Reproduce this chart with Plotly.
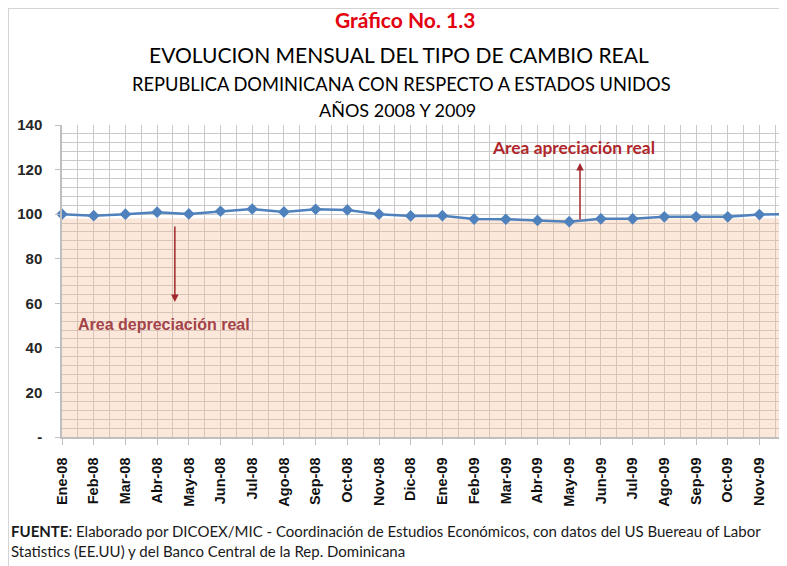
import plotly.graph_objects as go

# ---------------- data ----------------
months = ["Ene-08", "Feb-08", "Mar-08", "Abr-08", "May-08", "Jun-08", "Jul-08", "Ago-08",
          "Sep-08", "Oct-08", "Nov-08", "Dic-08", "Ene-09", "Feb-09", "Mar-09", "Abr-09",
          "May-09", "Jun-09", "Jul-09", "Ago-09", "Sep-09", "Oct-09", "Nov-09", "Dic-09"]
tcr = [100.0, 99.3, 100.0, 100.9, 100.1, 101.3, 102.3, 101.0, 102.2, 101.9, 100.0, 99.2,
       99.3, 97.8, 97.7, 97.2, 96.6, 97.9, 97.9, 98.8, 98.8, 98.8, 99.8, 100.0]
fill_level = 98.0          # upper edge of the "depreciación" shaded area
y_ticks = [0, 20, 40, 60, 80, 100, 120, 140]
y_ticktext = ["-", "20", "40", "60", "80", "100", "120", "140"]

# ---------------- geometry helpers (screen pixels) ----------------
W, H = 787, 566
OFF = 8                          # page body margin
L, T, B, R = 62, 125, 437, 787   # plot area edges as seen on screen
PW, PH = R - L, B - T


def px_x(px):   # screen pixel -> paper x
    return (px - L) / PW


def px_y(py):   # screen pixel -> paper y
    return (B - py) / PH


idx = list(range(len(months)))
fig = go.Figure()

# shaded area (semi-transparent so the grid shows through)
fig.add_trace(go.Scatter(
    x=[idx[0], idx[-1]], y=[fill_level, fill_level], mode="lines",
    line=dict(width=0), fill="tozeroy", fillcolor="rgba(247,186,146,0.33)",
    hoverinfo="skip", showlegend=False))

# main series
fig.add_trace(go.Scatter(
    x=idx, y=tcr, mode="lines+markers",
    line=dict(color="#4F81BD", width=2.5),
    marker=dict(symbol="diamond", size=9, color="#4F81BD"),
    cliponaxis=False, showlegend=False))

grid_col = "#c9c9c9"
fig.update_xaxes(
    range=[0, 22.87], tickmode="array", tickvals=idx, ticktext=months,
    tickangle=-90, ticks="outside", ticklen=6, tickcolor="#bfbfbf", automargin=False,
    ticklabelstandoff=7,
    tickfont=dict(family="Liberation Sans", size=14.5, color="#111111", weight="bold"),
    showgrid=True, gridcolor=grid_col, gridwidth=1,
    minor=dict(tickvals=[i + 0.5 for i in idx], showgrid=True, gridcolor=grid_col, gridwidth=1),
    showline=True, linecolor="#bfbfbf", linewidth=1.5, zeroline=False)

fig.update_yaxes(
    range=[0, 140], tickmode="array", tickvals=y_ticks, ticktext=y_ticktext,
    ticks="outside", ticklen=5, tickcolor="#bfbfbf", ticklabelstandoff=10, automargin=False,
    tickfont=dict(family="Liberation Sans", size=15, color="#262626", weight="bold"),
    showgrid=True, gridcolor=grid_col, gridwidth=1,
    minor=dict(dtick=4, showgrid=True, gridcolor=grid_col, gridwidth=1),
    showline=True, linecolor="#bfbfbf", linewidth=1.5, zeroline=False)

ann = []
# titles
ann.append(dict(text="<b>Gráfico No. 1.3</b>", x=px_x(405), y=px_y(19.5),
                font=dict(family="Lato", size=21, color="#e3000f")))
ann.append(dict(text="EVOLUCION MENSUAL DEL TIPO DE CAMBIO REAL", x=px_x(399), y=px_y(55),
                font=dict(family="Lato", size=21, color="#000000")))
ann.append(dict(text="REPUBLICA DOMINICANA CON RESPECTO A ESTADOS UNIDOS", x=px_x(401), y=px_y(84),
                font=dict(family="Lato", size=18.3, color="#000000")))
ann.append(dict(text="AÑOS 2008 Y 2009", x=px_x(397), y=px_y(110),
                font=dict(family="Lato", size=18, color="#000000")))
for a in ann:
    a.update(xref="paper", yref="paper", showarrow=False, xanchor="center", yanchor="middle",
             borderpad=0)

# area labels
ann.append(dict(text="<b>Area apreciación real</b>", x=16.15, y=129.7, xref="x", yref="y",
                showarrow=False, font=dict(family="Lato", size=17.4, color="#b0262c")))
ann.append(dict(text="<b>Area depreciación real</b>", x=0.45, y=50.7, xref="x", yref="y",
                xanchor="left", showarrow=False,
                font=dict(family="Liberation Sans", size=16, color="#a3434a")))
# arrows
ann.append(dict(x=3.56, y=60.6, ax=3.56, ay=95.1, xref="x", yref="y", axref="x", ayref="y",
                text="", showarrow=True, arrowhead=2, arrowsize=1, arrowwidth=1.5, arrowcolor="#a0282d"))
ann.append(dict(x=16.34, y=123.0, ax=16.34, ay=96.9, xref="x", yref="y", axref="x", ayref="y",
                text="", showarrow=True, arrowhead=2, arrowsize=1, arrowwidth=1.5, arrowcolor="#a0282d"))
# footer
ann.append(dict(text="<b>FUENTE</b>: Elaborado por DICOEX/MIC - Coordinación de Estudios Económicos, con datos del US Buereau of Labor<br>"
                     "Statistics (EE.UU) y del Banco Central de la Rep. Dominicana",
                x=px_x(9), y=px_y(541), xref="paper", yref="paper", xanchor="left", yanchor="middle",
                align="left", showarrow=False, font=dict(family="Lato", size=15, color="#1a1a1a")))

# outer frame (top & left edges visible)
shapes = [dict(type="path", xref="paper", yref="paper",
               path=f"M {px_x(8)},{px_y(580)} L {px_x(8)},{px_y(8)} L {px_x(800)},{px_y(8)}",
               line=dict(color="#d4d4d4", width=2))]

fig.update_layout(
    width=W, height=H,
    margin=dict(l=L - OFF, r=W - (R - OFF), t=T - OFF, b=H - (B - OFF)),
    paper_bgcolor="white", plot_bgcolor="white",
    annotations=ann, shapes=shapes, showlegend=False)

fig.write_html("out.html")
